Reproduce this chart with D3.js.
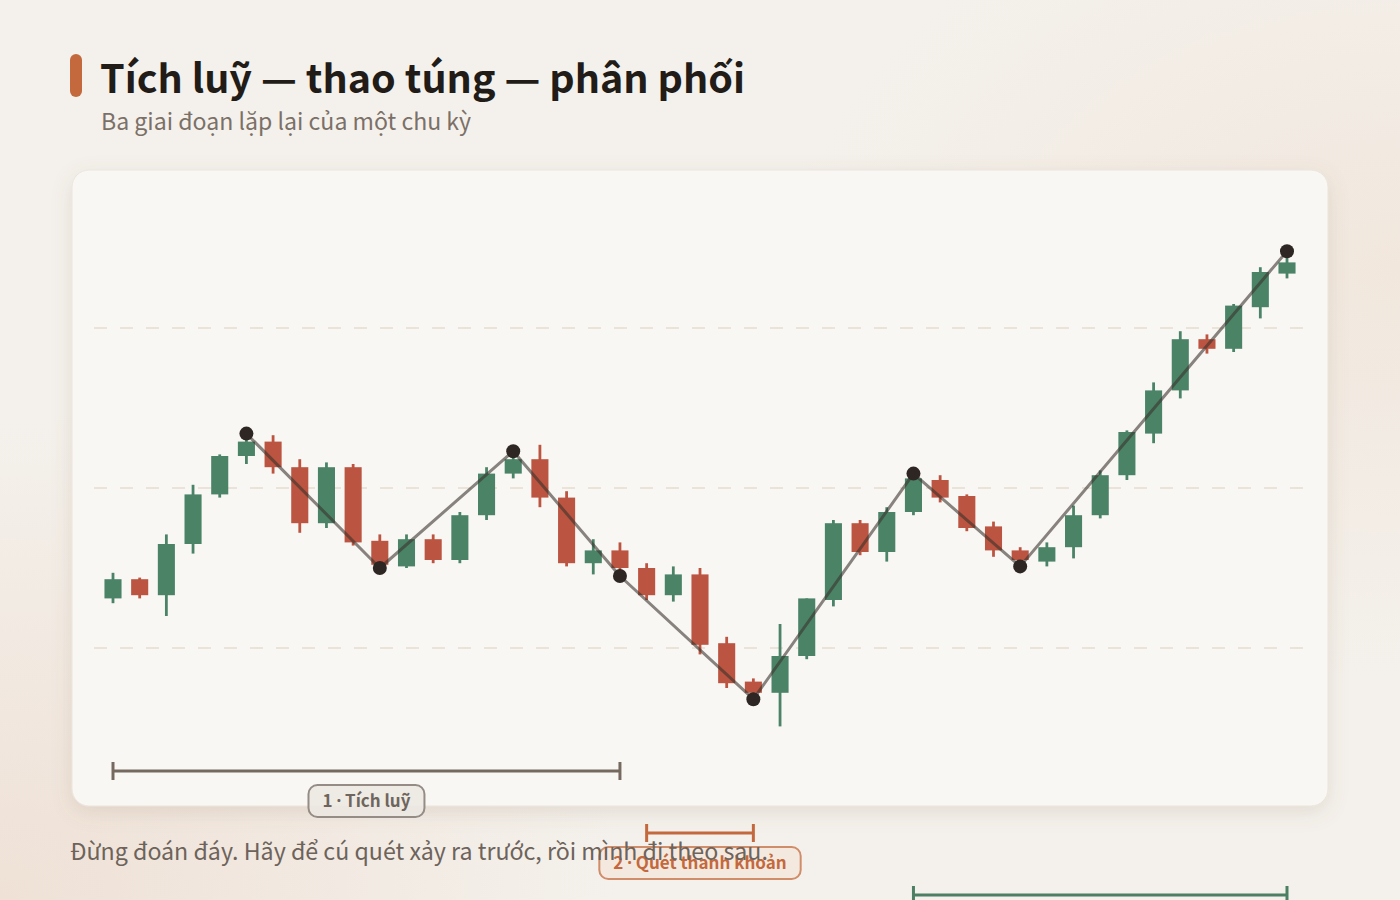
<!DOCTYPE html>
<html lang="vi"><head><meta charset="utf-8">
<script src="https://cdn.jsdelivr.net/npm/d3@7"></script>
<style>
html,body{margin:0;padding:0;width:1400px;height:900px;overflow:hidden;}
body{background:
 radial-gradient(ellipse 900px 700px at 0% 100%, #efe1d6 0%, rgba(239,225,214,0) 70%),
 radial-gradient(ellipse 900px 600px at 100% 30%, #f1e7dd 0%, rgba(241,231,221,0) 70%),
 #f4f1ec;}
svg{position:absolute;left:0;top:0;overflow:visible;}
text{font-family:"Noto Sans CJK SC","Noto Sans",sans-serif;}
</style></head>
<body>
<svg id="chart" width="1400" height="900"></svg>
<script>
// ---- data ----
const title = "Tích luỹ — thao túng — phân phối";
const subtitle = "Ba giai đoạn lặp lại của một chu kỳ";
const footnote = "Đừng đoán đáy. Hãy để cú quét xảy ra trước, rồi mình đi theo sau.";
const candleIds = d3.range(1, 46);
const opens  = [93.1,94.3,93.3,96.5,99.6,102.0,102.9,101.3,97.8,101.3,96.7,95.1,96.8,95.5,98.3,100.9,101.8,99.4,95.3,96.1,95.0,93.3,94.6,90.3,87.9,87.2,89.5,93.0,97.8,96.0,98.5,100.5,99.5,97.6,96.1,95.4,96.3,98.3,100.8,103.4,106.1,109.3,108.7,111.3,113.4];
const highs  = [94.7,94.4,97.1,100.2,102.1,103.4,103.3,101.8,101.6,101.5,97.1,97.1,97.1,98.5,101.3,102.3,102.7,99.8,96.8,96.6,95.3,95.1,95.0,90.7,88.1,91.5,93.1,98.0,98.0,98.8,100.9,100.8,99.6,97.9,96.3,96.6,98.9,101.1,103.6,106.6,109.8,109.6,111.5,113.8,114.8];
const lows   = [92.8,93.1,92.0,95.9,99.4,101.5,100.9,97.2,97.5,96.4,95.0,95.0,95.3,95.3,98.0,100.6,98.8,95.1,94.6,94.5,93.0,92.9,89.6,87.5,86.8,85.1,89.3,92.6,95.8,95.4,98.3,99.1,97.3,95.7,95.1,95.1,95.6,98.1,100.5,102.8,105.6,108.4,108.5,110.6,113.1];
const closes = [94.3,93.3,96.5,99.6,102.0,102.9,101.3,97.8,101.3,96.6,95.2,96.8,95.5,98.3,100.9,101.8,99.4,95.3,96.1,95.0,93.3,94.6,90.2,87.8,87.2,89.5,93.1,97.8,96.0,98.5,100.6,99.4,97.5,96.1,95.5,96.3,98.3,100.8,103.5,106.1,109.3,108.7,111.4,113.5,114.1];
const gridTicks = [90, 100, 110];
const pivotIdx  = [5, 10, 15, 19, 24, 30, 34, 44];
const pivotType = ["H","L","H","L","L","H","L","H"];
const phaseNums  = ["1", "2", "3"];
const phaseNames = ["Tích luỹ", "Quét thanh khoản", "Phân phối"];
const phaseStart = [0, 20, 30];
const phaseEnd   = [19, 24, 44];

// ---- styles ----
const C = {green:"#4b8367", red:"#bb5440", bar:"#c4693d", ink:"#221c18", sub:"#7b7067"};
const phaseStyle = [
  {line:"#766a60", text:"#6e655d", fill:"rgba(236,232,226,0.9)", stroke:"#958c85"},
  {line:"#c4693d", text:"#c4693d", fill:"rgba(244,226,214,0.55)", stroke:"#d08d69"},
  {line:"#4c7f64", text:"#4c7f64", fill:"rgba(226,236,229,0.7)", stroke:"#7fa38e"}
];

const svg = d3.select("#chart");
const defs = svg.append("defs");
const f = defs.append("filter").attr("id","shadow").attr("x","-10%").attr("y","-10%").attr("width","120%").attr("height","130%");
f.append("feDropShadow").attr("dx",0).attr("dy",6).attr("stdDeviation",10).attr("flood-color","#8a6a50").attr("flood-opacity",0.16);

// header
svg.append("rect").attr("x",70).attr("y",54).attr("width",12).attr("height",43).attr("rx",6).attr("fill",C.bar);
svg.append("text").attr("x",100).attr("y",93).attr("font-size",39.5).attr("font-weight",700).attr("fill",C.ink).text(title);
svg.append("text").attr("x",101).attr("y",130).attr("font-size",23.1).attr("fill",C.sub).text(subtitle);

// card
svg.append("rect").attr("x",72).attr("y",170).attr("width",1256).attr("height",636).attr("rx",17)
  .attr("fill","#f9f7f4").attr("stroke","#ebe4da").attr("stroke-width",1).attr("filter","url(#shadow)");

// scales
const x = d3.scalePoint().domain(d3.range(candleIds.length)).range([113, 1287]);
const y = d3.scaleLinear().domain([85, 115]).range([728, 248]);
const step = x.step();
const bodyW = step * 0.64;

// grid
svg.append("g").selectAll("line").data(gridTicks).join("line")
  .attr("x1",94).attr("x2",1304).attr("y1",d=>y(d)).attr("y2",d=>y(d))
  .attr("stroke","#ebe3d7").attr("stroke-width",2).attr("stroke-dasharray","13,13");

// candles
const data = candleIds.map((id,i)=>({i, o:opens[i], h:highs[i], l:lows[i], c:closes[i]}));
const cg = svg.append("g").selectAll("g").data(data).join("g");
cg.append("line").attr("x1",d=>x(d.i)).attr("x2",d=>x(d.i)).attr("y1",d=>y(d.h)).attr("y2",d=>y(d.l))
  .attr("stroke",d=>d.c>=d.o?C.green:C.red).attr("stroke-width",2.8);
cg.append("rect").attr("x",d=>x(d.i)-bodyW/2).attr("width",bodyW)
  .attr("y",d=>y(Math.max(d.o,d.c))).attr("height",d=>Math.max(1.5, Math.abs(y(d.o)-y(d.c))))
  .attr("fill",d=>d.c>=d.o?C.green:C.red);

// pivot path
const piv = pivotIdx.map((k,j)=>({i:k, v: pivotType[j]==="H"?highs[k]:lows[k]}));
svg.append("path").datum(piv)
  .attr("d", d3.line().x(d=>x(d.i)).y(d=>y(d.v)))
  .attr("fill","none").attr("stroke","#3b332d").attr("stroke-opacity",0.6).attr("stroke-width",3).attr("stroke-linejoin","round");
svg.append("g").selectAll("circle").data(piv).join("circle")
  .attr("cx",d=>x(d.i)).attr("cy",d=>y(d.v)).attr("r",7).attr("fill","#2e2622");

// phases
const phaseY0 = 771, phaseGap = 62;
phaseNames.forEach((name,k)=>{
  const st = phaseStyle[k];
  const g = svg.append("g");
  const yy = phaseY0 + k*phaseGap;
  const x0 = x(phaseStart[k]), x1 = x(phaseEnd[k]);
  g.append("line").attr("x1",x0).attr("x2",x1).attr("y1",yy).attr("y2",yy).attr("stroke",st.line).attr("stroke-width",3);
  [x0,x1].forEach(xx=>g.append("line").attr("x1",xx).attr("x2",xx).attr("y1",yy-9).attr("y2",yy+9).attr("stroke",st.line).attr("stroke-width",3));
  const cx = (x0+x1)/2, cy = yy+30;
  const t = g.append("text").attr("x",cx).attr("y",cy+6).attr("text-anchor","middle").attr("font-size",17).attr("font-weight",700).attr("fill",st.text);
  t.append("tspan").text(phaseNums[k] + " ");
  t.append("tspan").style("font-family","'Noto Sans',sans-serif").text("·");
  t.append("tspan").text(" " + name);
  const w = t.node().getComputedTextLength() + 28;
  g.insert("rect","text").attr("x",cx-w/2).attr("y",cy-16).attr("width",w).attr("height",32).attr("rx",9)
    .attr("fill",st.fill).attr("stroke",st.stroke).attr("stroke-width",2);
});

// footnote
svg.append("text").attr("x",70).attr("y",860).attr("font-size",23.2).attr("fill","#6d635b").text(footnote);
</script>
</body></html>
